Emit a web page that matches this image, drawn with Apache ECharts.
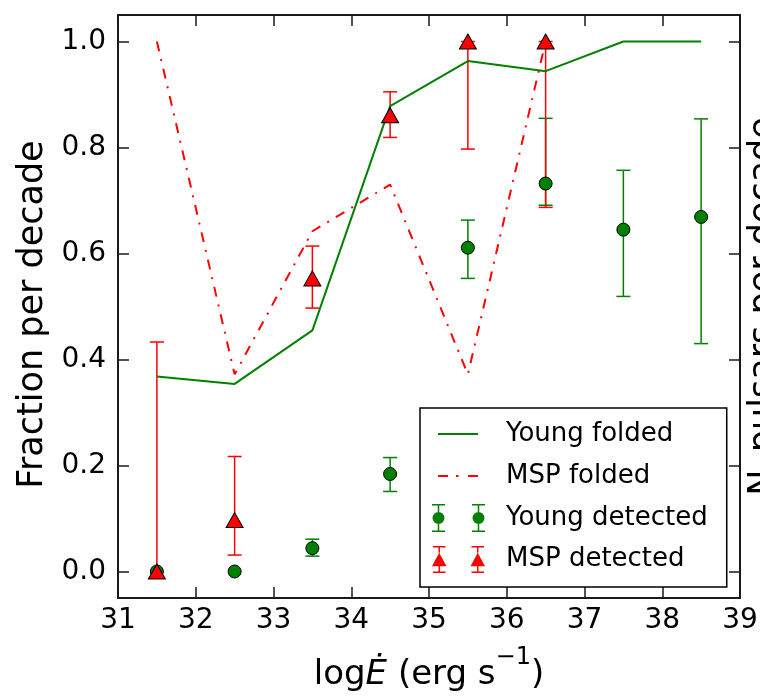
<!DOCTYPE html>
<html>
<head>
<meta charset="utf-8">
<style>
  html, body { margin: 0; padding: 0; background: #fff; }
  #chart { width: 760px; height: 698px; }
</style>
<script src="https://cdn.jsdelivr.net/npm/echarts@6/dist/echarts.min.js"></script>
</head>
<body>
<div id="chart"></div>
<script>
// Bin centres in log Edot (erg/s)
const binsYoung = [31.5, 32.5, 33.5, 34.5, 35.5, 36.5, 37.5, 38.5];
const binsMsp = [31.5, 32.5, 33.5, 34.5, 35.5, 36.5];

// Folded (model) fractions
const youngFolded = [0.368, 0.354, 0.455, 0.878, 0.963, 0.944, 1.0, 1.0];
const mspFolded = [1.0, 0.372, 0.642, 0.730, 0.372, 1.0];

// Detected fractions with lower / upper error limits
const youngDetected = [0.0, 0.0, 0.044, 0.184, 0.611, 0.732, 0.645, 0.669];
const youngLow = [0.0, 0.0, 0.029, 0.151, 0.553, 0.691, 0.519, 0.430];
const youngHigh = [0.0, 0.0, 0.061, 0.215, 0.663, 0.855, 0.757, 0.854];

const mspDetected = [0.0, 0.097, 0.553, 0.861, 1.0, 1.0];
const mspLow = [0.0, 0.031, 0.497, 0.819, 0.797, 0.687];
const mspHigh = [0.433, 0.217, 0.614, 0.905, 1.0, 1.0];

// Axis ticks
const xTicks = [31, 32, 33, 34, 35, 36, 37, 38, 39];
const yTicks = [0.0, 0.2, 0.4, 0.6, 0.8, 1.0];

const FONT = 'DejaVu Sans';
const GREEN = '#008000';
const RED = '#ff0000';
const SPINE = '#1a1a1a';

const pairs = (xs, ys) => xs.map((x, i) => [x, ys[i]]);
const errTriples = (xs, lo, hi) =>
  xs.map((x, i) => [x, lo[i], hi[i]]).filter(d => d[2] > d[1]);

function errorBarRenderer(color) {
  return function (params, api) {
    const x = api.value(0);
    const lo = api.coord([x, api.value(1)]);
    const hi = api.coord([x, api.value(2)]);
    const half = 7;
    const style = { stroke: color, lineWidth: 1.5 };
    return {
      type: 'group',
      children: [
        { type: 'line', shape: { x1: lo[0], y1: lo[1], x2: hi[0], y2: hi[1] }, style },
        { type: 'line', shape: { x1: lo[0] - half, y1: lo[1], x2: lo[0] + half, y2: lo[1] }, style },
        { type: 'line', shape: { x1: hi[0] - half, y1: hi[1], x2: hi[0] + half, y2: hi[1] }, style }
      ]
    };
  };
}

// Legend handles. The zero-length subpaths at the corners only pin the
// 53x28 bounding box so the visible parts keep their place inside it.
const FRAME = 'M0,0L0,0Z M53,28L53,28Z ';
const solidHandle = 'path://' + FRAME + 'M6,13H46V15H6Z';
const dashDotHandle = 'path://' + FRAME + 'M6,13H16V15H6Z M24,13H26.5V15H24Z M36,13H46V15H36Z';
const circleHandle = 'path://' + FRAME +
  'M0,0H13V1.5H7.25V8H5.75V1.5H0Z M0,26.5H5.75V20H7.25V26.5H13V28H0Z ' +
  'M0.5,14a6,6 0 1,0 12,0a6,6 0 1,0 -12,0Z ' +
  'M40,0H53V1.5H47.25V8H45.75V1.5H40Z M40,26.5H45.75V20H47.25V26.5H53V28H40Z ' +
  'M40.5,14a6,6 0 1,0 12,0a6,6 0 1,0 -12,0Z';
const triangleHandle = 'path://' + FRAME +
  'M0,0H13V1.5H7.25V7H5.75V1.5H0Z M0,26.5H5.75V21H7.25V26.5H13V28H0Z ' +
  'M-1,21L6.5,7L14,21Z ' +
  'M40,0H53V1.5H47.25V7H45.75V1.5H40Z M40,26.5H45.75V21H47.25V26.5H53V28H40Z ' +
  'M39,21L46.5,7L54,21Z';

const axisCommon = {
  axisLine: { show: true, onZero: false, lineStyle: { color: SPINE, width: 2 } },
  axisTick: { show: true, inside: true, length: 11, lineStyle: { color: SPINE, width: 1.5 } },
  splitLine: { show: false }
};

const chart = echarts.init(document.getElementById('chart'), null, { renderer: 'canvas' });

chart.setOption({
  backgroundColor: '#fff',
  animation: false,
  textStyle: { fontFamily: FONT, color: '#000' },
  grid: { left: 118, right: 20, top: 15, bottom: 100, containLabel: false, outerBoundsMode: 'none' },
  xAxis: [
    Object.assign({}, axisCommon, {
      type: 'value', position: 'bottom', min: 31, max: 39, interval: 1,
      axisTick: Object.assign({}, axisCommon.axisTick, { customValues: xTicks }),
      axisLabel: { customValues: xTicks, fontFamily: FONT, fontSize: 28, color: '#000', margin: 9 },
      name: 'log{i|Ė} (erg s{sup|−1})',
      nameLocation: 'middle', nameGap: 57,
      nameTextStyle: {
        fontFamily: FONT, fontSize: 34, lineHeight: 40, color: '#000',
        rich: {
          i: { fontFamily: FONT, fontSize: 34, lineHeight: 40, fontStyle: 'italic', color: '#000' },
          sup: { fontFamily: FONT, fontSize: 24, lineHeight: 24, padding: [0, 0, 34, 0], color: '#000' }
        }
      }
    }),
    Object.assign({}, axisCommon, {
      type: 'value', position: 'top', min: 31, max: 39, interval: 1,
      axisTick: Object.assign({}, axisCommon.axisTick, { customValues: xTicks }),
      axisLabel: { show: false }
    })
  ],
  yAxis: [
    Object.assign({}, axisCommon, {
      type: 'value', position: 'left', min: -0.05, max: 1.05,
      axisTick: Object.assign({}, axisCommon.axisTick, { customValues: yTicks }),
      axisLabel: {
        customValues: yTicks, fontFamily: FONT, fontSize: 28, color: '#000', margin: 12,
        formatter: v => v.toFixed(1)
      },
      name: 'Fraction per decade',
      nameLocation: 'middle', nameGap: 60, nameRotate: 90,
      nameTextStyle: { fontFamily: FONT, fontSize: 35, color: '#000', padding: [0, 16, 0, 0] }
    }),
    Object.assign({}, axisCommon, {
      type: 'value', position: 'right', min: -0.05, max: 1.05,
      axisTick: Object.assign({}, axisCommon.axisTick, { customValues: yTicks }),
      axisLabel: { show: false },
      name: 'N_pulsars per decade',
      nameLocation: 'middle', nameGap: 6, nameRotate: 90,
      nameTextStyle: { fontFamily: FONT, fontSize: 35, color: '#000' }
    })
  ],
  legend: {
    orient: 'vertical',
    left: 420, top: 408,
    padding: [12, 19, 14, 12],
    itemWidth: 53, itemHeight: 28, itemGap: 14,
    backgroundColor: '#fff',
    borderColor: '#000', borderWidth: 1.5, borderRadius: 0,
    selectedMode: false,
    textStyle: { fontFamily: FONT, fontSize: 26, color: '#000', padding: [0, 0, 0, 16] },
    data: [
      { name: 'Young folded', icon: solidHandle, itemStyle: { color: GREEN, borderWidth: 0 } },
      { name: 'MSP folded', icon: dashDotHandle, itemStyle: { color: RED, borderWidth: 0 } },
      { name: 'Young detected', icon: circleHandle, itemStyle: { color: GREEN, borderWidth: 0 } },
      { name: 'MSP detected', icon: triangleHandle, itemStyle: { color: RED, borderWidth: 0 } }
    ]
  },
  series: [
    {
      name: 'Young detected bars', type: 'custom', z: 1,
      renderItem: errorBarRenderer(GREEN),
      data: errTriples(binsYoung, youngLow, youngHigh),
      encode: { x: 0, y: [1, 2] }, silent: true
    },
    {
      name: 'MSP detected bars', type: 'custom', z: 1,
      renderItem: errorBarRenderer(RED),
      data: errTriples(binsMsp, mspLow, mspHigh),
      encode: { x: 0, y: [1, 2] }, silent: true
    },
    {
      name: 'Young folded', type: 'line', z: 2, symbol: 'none',
      lineStyle: { color: GREEN, width: 2 }, itemStyle: { color: GREEN },
      data: pairs(binsYoung, youngFolded)
    },
    {
      name: 'MSP folded', type: 'line', z: 2, symbol: 'none',
      lineStyle: { color: RED, width: 2, type: [10, 8, 2, 8] }, itemStyle: { color: RED },
      data: pairs(binsMsp, mspFolded)
    },
    {
      name: 'Young detected', type: 'scatter', z: 3,
      symbol: 'circle', symbolSize: 13,
      itemStyle: { color: GREEN, borderColor: '#000', borderWidth: 1, opacity: 1 },
      data: pairs(binsYoung, youngDetected)
    },
    {
      name: 'MSP detected', type: 'scatter', z: 4,
      symbol: 'triangle', symbolSize: [17, 15],
      itemStyle: { color: RED, borderColor: '#000', borderWidth: 1, opacity: 1 },
      data: pairs(binsMsp, mspDetected)
    }
  ]
});
</script>
</body>
</html>
